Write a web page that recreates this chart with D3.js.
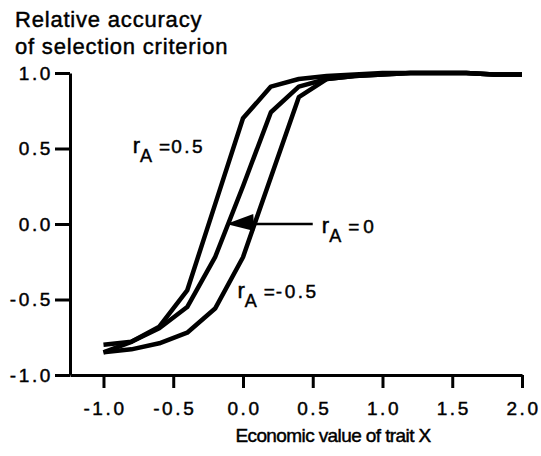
<!DOCTYPE html>
<html>
<head>
<meta charset="utf-8">
<script src="https://cdn.jsdelivr.net/npm/d3@7"></script>
<style>
    body { margin: 0; background: #fff; }
    text { font-family: "Liberation Sans", Arial, Helvetica, sans-serif; fill: #000; stroke: #000; stroke-width: 0.45px; }
</style>
</head>
<body>
<svg id="chart" width="541" height="456"></svg>
<script>
// economic value of trait X (x) and relative accuracy (y)
var traitValues = [-1.0, -0.8, -0.6, -0.4, -0.2, 0.0, 0.2, 0.4, 0.6, 0.8, 1.0, 1.2, 1.4, 1.6, 1.8, 2.0];
var accuracyPos = [-0.80, -0.78, -0.68, -0.44, 0.13, 0.70, 0.91, 0.96, 0.98, 0.99, 1.0, 1.0, 1.0, 1.0, 0.99, 0.99];   // rA = 0.5
var accuracyZero = [-0.85, -0.78, -0.69, -0.55, -0.22, 0.25, 0.74, 0.91, 0.96, 0.98, 0.99, 1.0, 1.0, 1.0, 0.99, 0.99]; // rA = 0
var accuracyNeg = [-0.85, -0.83, -0.79, -0.72, -0.56, -0.22, 0.31, 0.84, 0.96, 0.98, 0.99, 1.0, 1.0, 1.0, 0.99, 0.99];  // rA = -0.5

var xTicks = [-1.0, -0.5, 0.0, 0.5, 1.0, 1.5, 2.0];
var yTicks = [-1.0, -0.5, 0.0, 0.5, 1.0];

var labelNames = ["0.5", "0", "-0.5"];
var labelAt = [[-0.79, 0.47], [0.565, -0.06], [-0.04, -0.49]];
var arrowFrom = [0.50, 0.0];
var arrowTo = [-0.12, 0.0];

document.addEventListener('DOMContentLoaded', function () {
    var svg = d3.select('#chart');

    var x = d3.scaleLinear().domain([-1.24, 2.0]).range([70, 522]);
    var y = d3.scaleLinear().domain([-1, 1]).range([375, 73]);

    // title on two lines
    var title = svg.append('text')
        .attr('x', 15).attr('y', 27)
        .style('font-size', '22px')
        .style('letter-spacing', '0.8px');
    title.append('tspan').attr('x', 15).text('Relative accuracy');
    title.append('tspan').attr('x', 15).attr('dy', 26.5).text('of selection criterion');

    var axisX = d3.axisBottom(x)
        .tickValues(xTicks)
        .tickSizeInner(13)
        .tickSizeOuter(0)
        .tickPadding(14)
        .tickFormat(d => d.toFixed(1));

    var axisY = d3.axisLeft(y)
        .tickValues(yTicks)
        .tickSizeInner(15)
        .tickSizeOuter(0)
        .tickPadding(2)
        .tickFormat(d => d.toFixed(1));

    var gx = svg.append('g').attr('transform', 'translate(0,' + y(-1) + ')').call(axisX);
    var gy = svg.append('g').attr('transform', 'translate(' + x(-1.24) + ',0)').call(axisY);

    [gx, gy].forEach(function (g) {
        g.select('.domain').attr('stroke', '#000').attr('stroke-width', 3);
        g.selectAll('.tick line').attr('stroke', '#000').attr('stroke-width', 3);
        g.selectAll('.tick text')
            .attr('fill', '#000')
            .style('font-family', '"Liberation Sans", Arial, sans-serif')
            .style('font-size', '19px')
            .style('letter-spacing', '2.6px');
    });
    gx.selectAll('.tick text').attr('dx', 1);

    svg.append('text')
        .attr('x', 333).attr('y', 442)
        .attr('text-anchor', 'middle')
        .style('font-size', '19px')
        .style('letter-spacing', '-0.6px')
        .text('Economic value of trait X');

    var line = d3.line()
        .x((d, i) => x(traitValues[i]))
        .y(d => y(d));

    var series = [accuracyPos, accuracyZero, accuracyNeg];
    svg.selectAll('.curve')
        .data(series)
        .enter()
        .append('path')
        .attr('class', 'curve')
        .attr('d', d => line(d))
        .attr('fill', 'none')
        .attr('stroke', '#000')
        .attr('stroke-width', 4.5)
        .attr('stroke-linejoin', 'round');

    // arrow pointing at the rA = 0 curve
    svg.append('line')
        .attr('x1', x(arrowFrom[0])).attr('y1', y(arrowFrom[1]))
        .attr('x2', x(arrowTo[0]) + 20).attr('y2', y(arrowTo[1]))
        .attr('stroke', '#000')
        .attr('stroke-width', 2.5);
    var tx = x(arrowTo[0]), ty = y(arrowTo[1]);
    svg.append('path')
        .attr('d', 'M' + tx + ',' + ty + 'L' + (tx + 27) + ',' + (ty - 10) + 'L' + (tx + 28) + ',' + (ty + 7) + 'Z')
        .attr('fill', '#000');

    // rA labels
    labelNames.forEach(function (name, i) {
        var t = svg.append('text')
            .attr('x', x(labelAt[i][0]))
            .attr('y', y(labelAt[i][1]))
            .style('font-size', '19px');
        t.append('tspan').style('font-size', '22px').text('r');
        t.append('tspan').attr('dy', 9).style('font-size', '18px').text('A');
        t.append('tspan').attr('dy', -9).attr('dx', 7).style('font-size', '19px').text('=');
        t.append('tspan').attr('dx', name === '0' ? 4 : 1)
            .style('letter-spacing', name === '0' ? '0px' : '2.5px')
            .text(name);
    });
});
</script>
</body>
</html>
